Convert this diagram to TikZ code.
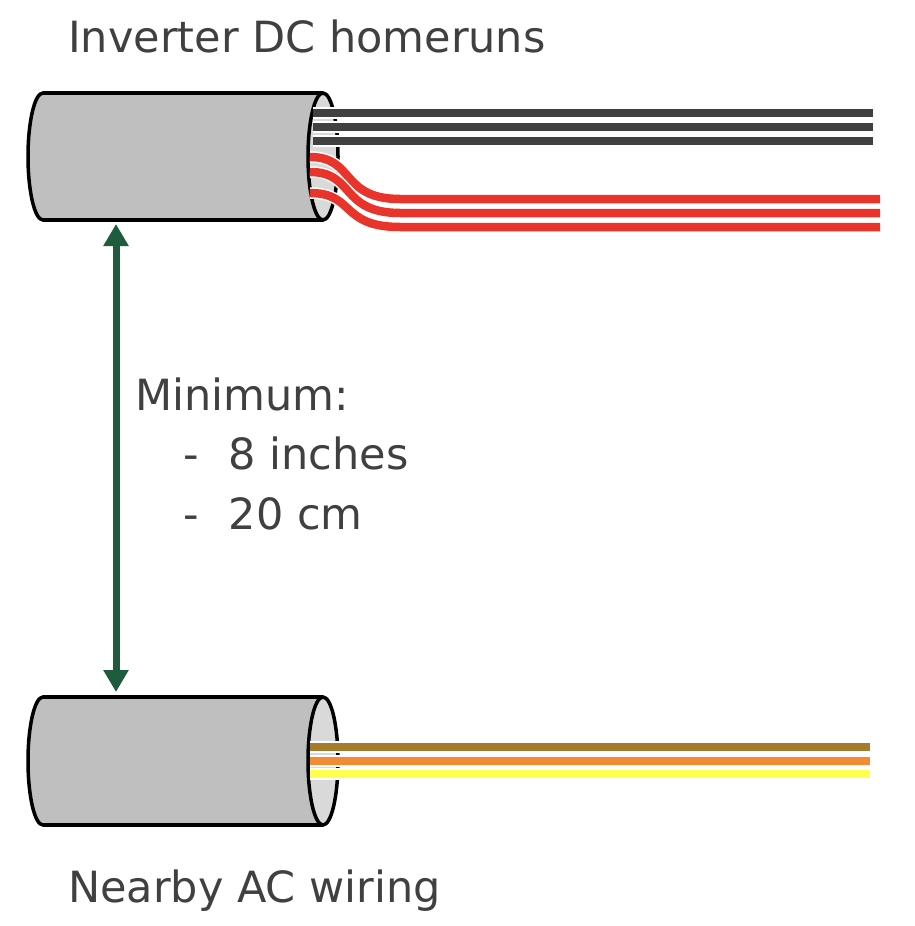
\documentclass[tikz,border=0pt]{standalone}
\usepackage{fontspec}
\setmainfont{DejaVu Sans}
\usetikzlibrary{arrows.meta}
\definecolor{bodygray}{HTML}{BFBFBF}
\definecolor{facegray}{HTML}{D9D9D9}
\definecolor{txt}{HTML}{404040}
\definecolor{dcblack}{HTML}{404040}
\definecolor{dcred}{HTML}{E8342A}
\definecolor{acbrown}{HTML}{A57C2C}
\definecolor{acorange}{HTML}{F28C33}
\definecolor{acyellow}{HTML}{FFFF4D}
\definecolor{gapgreen}{HTML}{1F5C3E}
\tikzset{
  wire/.style={draw=white, line width=1.5pt, double=#1, double distance=8.5pt},
  label/.style={text=txt, font=\fontsize{43}{50}\selectfont, anchor=base west, inner sep=0pt},
  edge/.style={line width=3.5pt},
}
\begin{document}
\begin{tikzpicture}[x=1pt,y=-1pt]
		\useasboundingbox (0,0) rectangle (914,926);
		
		% top cable
		\draw[edge, fill=bodygray] (43,156.5) ellipse[x radius=15, y radius=63.5];
		\fill[bodygray] (43,93) rectangle (323,220);
		\draw[edge] (43,93) -- (323,93) (43,220) -- (323,220);
		\draw[edge, fill=facegray] (323,156.5) ellipse[x radius=15, y radius=63.5];
		\foreach \y in {113,127,141}
		\draw[wire=dcblack] (313,\y) -- (873,\y);
		\foreach \ya/\yb in {157/199,172/213,193/227}
		\draw[wire=dcred] (310,\ya) .. controls (355,\ya) and (340,\yb) .. (400,\yb) -- (880,\yb);
		
		% bottom cable
		\draw[edge, fill=bodygray] (43,761) ellipse[x radius=15, y radius=64];
		\fill[bodygray] (43,697) rectangle (323,825);
		\draw[edge] (43,697) -- (323,697) (43,825) -- (323,825);
		\draw[edge, fill=facegray] (323,761) ellipse[x radius=15, y radius=64];
		\draw[wire=acbrown] (310,747) -- (870,747);
		\draw[wire=acorange] (310,761) -- (870,761);
		\draw[wire=acyellow] (310,774) -- (870,774);
		
		% spacing
		\coordinate (dctop) at (116,224);
		\coordinate (acbot) at (116,692);
		\draw[gapgreen, line width=7pt, {Triangle[length=22pt,width=24pt]}-{Triangle[length=22pt,width=24pt]}] (dctop) -- (acbot);
		
		\node[label] (dctitle) at (68,52) {Inverter DC homeruns};
		\node[label] (actitle) at (68,902) {Nearby AC wiring};
		\node[label] (mintitle) at (135,410) {Minimum:};
		\node[label] (mininch) at (183,469) {-\hspace{30pt}8 inches};
		\node[label] (mincm) at (183,529) {-\hspace{30pt}20 cm};
		
\end{tikzpicture}
\end{document}
